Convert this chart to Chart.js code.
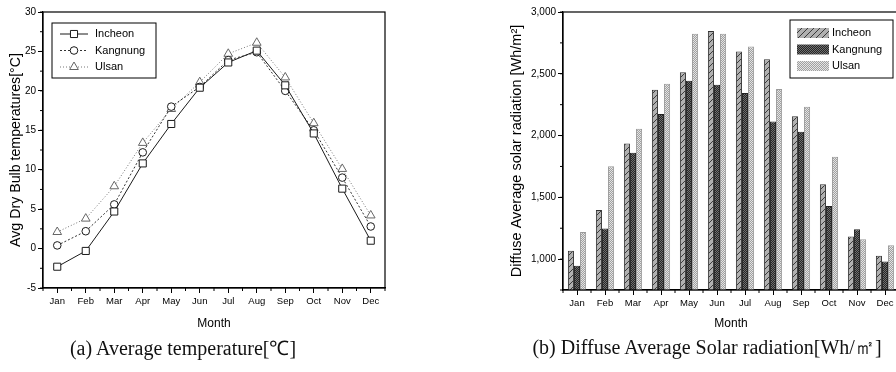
<!DOCTYPE html>
<html>
<head>
<meta charset="utf-8">
<script src="https://cdn.jsdelivr.net/npm/chart.js@4.4.0/dist/chart.umd.min.js"></script>
<style>
  html, body { margin: 0; padding: 0; background: #fff; overflow: hidden; width: 896px; height: 372px; }
  #tempChart { position: absolute; left: 0; top: 0; }
  #solarChart { position: absolute; left: 500px; top: 0; }
  .caption { position: absolute; top: 334px; font-family: "Liberation Serif", "Times New Roman", serif; font-size: 20px; color: #111; white-space: nowrap; transform: translateX(-50%); }
</style>
</head>
<body>
<canvas id="tempChart" width="400" height="335"></canvas>
<canvas id="solarChart" width="400" height="335"></canvas>
<div class="caption" style="left:183px">(a) Average temperature[℃]</div>
<div class="caption" style="left:707px">(b) Diffuse Average Solar radiation[Wh/㎡]</div>
<script>
'use strict';

let months = ['Jan', 'Feb', 'Mar', 'Apr', 'May', 'Jun', 'Jul', 'Aug', 'Sep', 'Oct', 'Nov', 'Dec'];
let cities = ['Incheon', 'Kangnung', 'Ulsan'];

// (a) avg dry bulb temperature [C]
let incheonTemp = [-2.3, -0.3, 4.7, 10.8, 15.8, 20.4, 23.6, 25.1, 20.7, 14.6, 7.6, 1.0];
let kangnungTemp = [0.4, 2.2, 5.6, 12.2, 18.0, 20.5, 23.9, 24.9, 20.0, 15.0, 9.0, 2.8];
let ulsanTemp = [2.1, 3.8, 7.9, 13.4, 17.7, 21.1, 24.7, 26.1, 21.7, 15.9, 10.1, 4.2];
let tempTicks = [-5, 0, 5, 10, 15, 20, 25, 30];

// (b) diffuse average solar radiation [Wh/m2]
let incheonRad = [1067, 1398, 1935, 2371, 2513, 2847, 2680, 2618, 2156, 1605, 1183, 1027];
let kangnungRad = [946, 1247, 1860, 2175, 2444, 2411, 2344, 2113, 2030, 1430, 1242, 981];
let ulsanRad = [1220, 1752, 2056, 2419, 2823, 2823, 2720, 2376, 2234, 1828, 1161, 1113];
let radTicks = [1000, 1500, 2000, 2500, 3000];
let radMin = 750;

Chart.defaults.font.family = 'Arial, "Liberation Sans", sans-serif';
Chart.defaults.color = '#000';

// little tiles for the grey-scale bar fills
function makePattern(kind) {
  let c = document.createElement('canvas');
  c.width = 6;
  c.height = 6;
  let g = c.getContext('2d');
  if (kind === 'hatch') {
    g.fillStyle = '#b0b0b0';
    g.fillRect(0, 0, 6, 6);
    g.strokeStyle = '#3a3a3a';
    g.lineWidth = 1;
    g.beginPath();
    g.moveTo(0, 6);
    g.lineTo(6, 0);
    g.stroke();
  } else if (kind === 'dark') {
    for (let x = 0; x < 6; x++) {
      for (let y = 0; y < 6; y++) {
        g.fillStyle = (x + y) % 2 ? '#262626' : '#707070';
        g.fillRect(x, y, 1, 1);
      }
    }
  } else {
    for (let x = 0; x < 6; x++) {
      for (let y = 0; y < 6; y++) {
        g.fillStyle = (x + y) % 2 ? '#a0a0a0' : '#e4e4e4';
        g.fillRect(x, y, 1, 1);
      }
    }
  }
  return g.createPattern(c, 'repeat');
}

// box around the plot, minor ticks and the boxed legend in the corner
function framePlugin(legendType, minorY) {
  return {
    id: 'frame',
    afterDraw(chart) {
      let ctx = chart.ctx;
      let a = chart.chartArea;
      let xs = chart.scales.x;
      let ys = chart.scales.y;
      ctx.save();
      ctx.strokeStyle = '#000';
      ctx.lineWidth = 1.2;
      ctx.strokeRect(a.left, a.top, a.right - a.left, a.bottom - a.top);

      // minor ticks
      ctx.lineWidth = 1;
      ctx.beginPath();
      let step = xs.getPixelForValue(1) - xs.getPixelForValue(0);
      for (let i = 0; i <= months.length; i++) {
        let px = xs.getPixelForValue(i) - step / 2;
        ctx.moveTo(px, a.bottom);
        ctx.lineTo(px, a.bottom + 3);
      }
      for (let v = ys.min; v <= ys.max; v += minorY) {
        let py = ys.getPixelForValue(v);
        ctx.moveTo(a.left, py);
        ctx.lineTo(a.left - 3, py);
      }
      ctx.stroke();

      // legend
      let sets = chart.data.datasets;
      ctx.font = '11px Arial, "Liberation Sans", sans-serif';
      ctx.textBaseline = 'middle';
      if (legendType === 'line') {
        let bx = a.left + 9;
        let by = a.top + 11;
        ctx.strokeStyle = '#000';
        ctx.strokeRect(bx, by, 104, 55);
        sets.forEach((ds, i) => {
          let ly = by + 11 + i * 16.5;
          ctx.strokeStyle = ds.borderColor;
          ctx.setLineDash(ds.borderDash || []);
          ctx.beginPath();
          ctx.moveTo(bx + 8, ly);
          ctx.lineTo(bx + 36, ly);
          ctx.stroke();
          ctx.setLineDash([]);
          ctx.fillStyle = '#fff';
          ctx.strokeStyle = ds.pointBorderColor;
          ctx.lineWidth = 1;
          Chart.helpers.drawPoint(ctx, { pointStyle: ds.pointStyle, radius: ds.pointRadius, rotation: 0, borderWidth: 1 }, bx + 22, ly);
          ctx.fillStyle = '#000';
          ctx.fillText(ds.label, bx + 43, ly);
        });
      } else {
        let bx = a.right - 109;
        let by = a.top + 8;
        ctx.strokeStyle = '#000';
        ctx.strokeRect(bx, by, 103, 58);
        sets.forEach((ds, i) => {
          let ly = by + 13 + i * 16.5;
          ctx.fillStyle = ds.backgroundColor;
          ctx.fillRect(bx + 7, ly - 5, 32, 10);
          ctx.fillStyle = '#000';
          ctx.fillText(ds.label, bx + 42, ly);
        });
      }
      ctx.restore();
    }
  };
}

let lineStyles = [
  { color: '#1a1a1a', dash: [], point: 'rect', radius: 5 },
  { color: '#333', dash: [2, 2], point: 'circle', radius: 3.8 },
  { color: '#777', dash: [1, 2], point: 'triangle', radius: 5 }
];

let tempSets = [incheonTemp, kangnungTemp, ulsanTemp].map((vals, i) => ({
  label: cities[i],
  data: vals,
  borderColor: lineStyles[i].color,
  borderWidth: 1,
  borderDash: lineStyles[i].dash,
  pointStyle: lineStyles[i].point,
  pointRadius: lineStyles[i].radius,
  pointBackgroundColor: '#fff',
  pointBorderColor: i === 2 ? '#666' : '#1a1a1a',
  pointBorderWidth: 1,
  tension: 0
}));

function yTitle(text, size) {
  return { display: true, text: text, font: { size: size }, padding: { top: 8, bottom: 2 } };
}

function xAxis(height) {
  return {
    type: 'category',
    offset: true,
    grid: { offset: false, drawOnChartArea: false, drawTicks: true, tickLength: 5, color: '#000' },
    border: { display: true, color: '#000', width: 1.2 },
    ticks: { font: { size: 9.5 }, padding: 3, maxRotation: 0, autoSkip: false },
    title: { display: true, text: 'Month', font: { size: 12 }, padding: { top: 4, bottom: 0 } },
    afterFit(s) { s.height = height; }
  };
}

new Chart(document.getElementById('tempChart'), {
  type: 'line',
  data: { labels: months, datasets: tempSets },
  options: {
    responsive: false,
    animation: false,
    layout: { padding: { top: 12, right: 15, left: 0, bottom: 4 } },
    plugins: { legend: { display: false }, tooltip: { enabled: false } },
    scales: {
      x: xAxis(43),
      y: {
        min: tempTicks[0],
        max: tempTicks[tempTicks.length - 1],
        grid: { drawOnChartArea: false, tickLength: 5, color: '#000' },
        border: { display: true, color: '#000', width: 1.2 },
        ticks: { font: { size: 10 }, padding: 2 },
        afterBuildTicks(s) { s.ticks = tempTicks.map(v => ({ value: v })); },
        title: yTitle('Avg Dry Bulb temperatures[°C]', 14.2),
        afterFit(s) { s.width = 43; }
      }
    }
  },
  plugins: [framePlugin('line', 2.5)]
});

let barFills = [makePattern('hatch'), makePattern('dark'), makePattern('dots')];
let barEdges = ['#333', '#222', '#9a9a9a'];

let radSets = [incheonRad, kangnungRad, ulsanRad].map((vals, i) => ({
  label: cities[i],
  data: vals,
  backgroundColor: barFills[i],
  borderColor: barEdges[i],
  borderWidth: 1,
  barPercentage: 1.0,
  categoryPercentage: 0.65
}));

new Chart(document.getElementById('solarChart'), {
  type: 'bar',
  data: { labels: months, datasets: radSets },
  options: {
    responsive: false,
    animation: false,
    layout: { padding: { top: 12, right: 1, left: 0, bottom: 4 } },
    plugins: { legend: { display: false }, tooltip: { enabled: false } },
    scales: {
      x: xAxis(41),
      y: {
        min: radMin,
        max: radTicks[radTicks.length - 1],
        grid: { drawOnChartArea: false, tickLength: 5, color: '#000' },
        border: { display: true, color: '#000', width: 1.2 },
        ticks: {
          font: { size: 10 },
          padding: 2,
          callback: (v) => v.toLocaleString('en-US')
        },
        afterBuildTicks(s) { s.ticks = radTicks.map(v => ({ value: v })); },
        title: yTitle('Diffuse Average solar radiation [Wh/m²]', 14.5),
        afterFit(s) { s.width = 63; }
      }
    }
  },
  plugins: [framePlugin('bar', 250)]
});
</script>
</body>
</html>
